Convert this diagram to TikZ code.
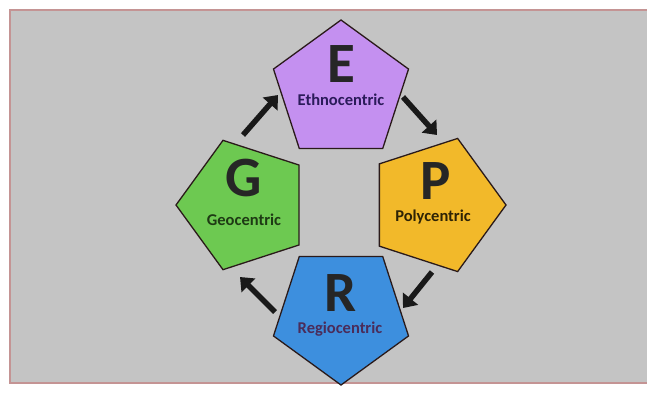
\documentclass[tikz,border=0pt]{standalone}
\usepackage{fontspec}
\setmainfont{Carlito}
\usetikzlibrary{shapes.geometric,arrows.meta}
\definecolor{bggray}{HTML}{C4C4C4}
\definecolor{framecol}{HTML}{C49494}
\definecolor{edgecol}{HTML}{2A1A1A}
\definecolor{ethfill}{HTML}{C490F0}
\definecolor{geofill}{HTML}{6DC951}
\definecolor{polyfill}{HTML}{F2B92A}
\definecolor{regfill}{HTML}{3D8FDE}
\definecolor{ethtext}{HTML}{2B1B5A}
\definecolor{geotext}{HTML}{1E3A14}
\definecolor{polytext}{HTML}{2E2305}
\definecolor{regtext}{HTML}{4A2C5A}
\begin{document}
\begin{tikzpicture}[x=1pt,y=-1pt]
\tikzstyle{penta}=[regular polygon,regular polygon sides=5,draw=edgecol,line width=1.3pt,inner sep=0pt]
\tikzstyle{letter}=[anchor=base,inner sep=0pt,font=\fontsize{57}{57}\selectfont\bfseries]
\tikzstyle{caption}=[anchor=base,inner sep=0pt,font=\fontsize{16.5}{16.5}\selectfont\bfseries]
\tikzstyle{flow}=[line width=5.5pt,draw=black!90,-{Triangle[length=12pt,width=19pt]}]
\useasboundingbox (0,0) rectangle (647,392);
\fill[white] (0,0) rectangle (647,392);
\fill[bggray] (10,10) rectangle (647,383);
\draw[framecol,line width=1.2pt] (647,10) -- (10,10) -- (10,383) -- (647,383);
\node [penta,fill=ethfill,minimum size=142pt] (E) at (341,91) {};
\node [penta,fill=geofill,minimum size=136pt,shape border rotate=90] (G) at (244,205) {};
\node [penta,fill=polyfill,minimum size=140pt,shape border rotate=-90] (P) at (436,205) {};
\node [penta,fill=regfill,minimum size=142pt,shape border rotate=180] (R) at (341,314) {};
\node [letter,text=black!85] (E-letter) at (341,82) {E};
\node [caption,text=ethtext] (E-name) at (341,105) {Ethnocentric};
\node [letter,text=black!85] (G-letter) at (244,196) {G};
\node [caption,text=geotext] (G-name) at (244,225) {Geocentric};
\node [letter,text=black!85] (P-letter) at (436,199) {P};
\node [caption,text=polytext] (P-name) at (433,221) {Polycentric};
\node [letter,text=black!85] (R-letter) at (341,311) {R};
\node [caption,text=regtext] (R-name) at (340,333) {Regiocentric};
\coordinate (ge-from) at (243,135);
\coordinate (ge-to) at (278,95);
\coordinate (ep-from) at (403,97);
\coordinate (ep-to) at (437,135);
\coordinate (pr-from) at (432,272);
\coordinate (pr-to) at (403,308);
\coordinate (rg-from) at (275,312);
\coordinate (rg-to) at (240,277);
\draw [flow] (ge-from) -- (ge-to);
\draw [flow] (ep-from) -- (ep-to);
\draw [flow] (pr-from) -- (pr-to);
\draw [flow] (rg-from) -- (rg-to);
\end{tikzpicture}
\end{document}
